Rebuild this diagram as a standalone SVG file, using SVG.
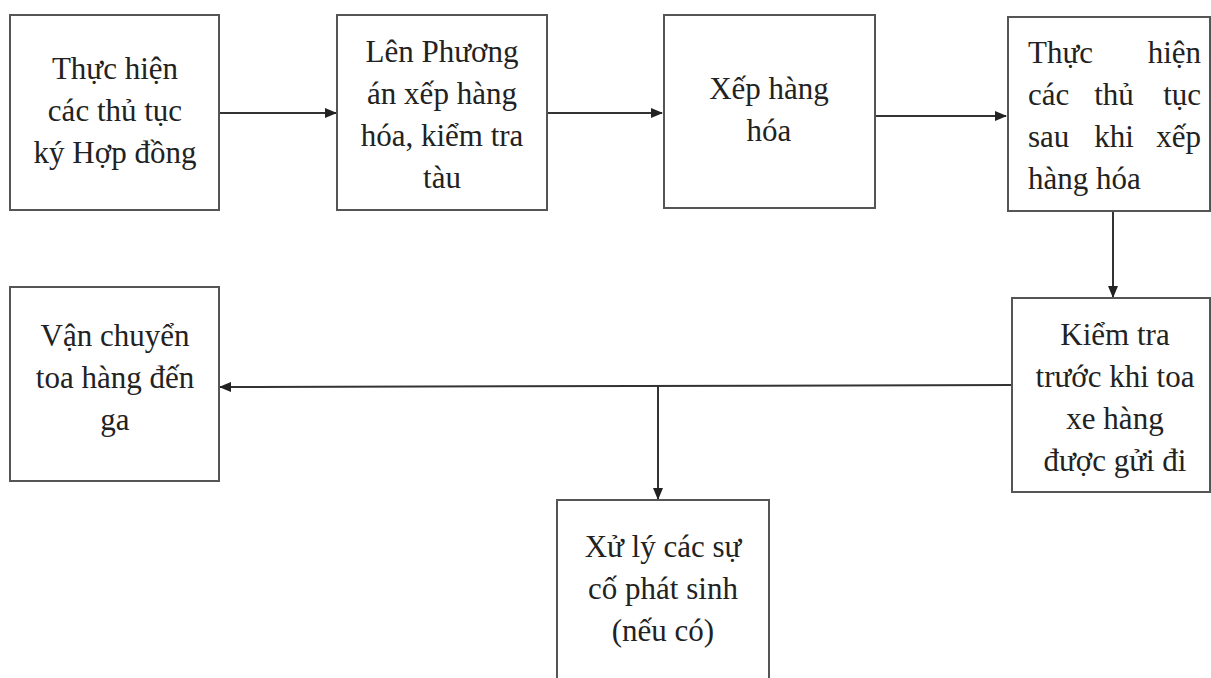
<svg xmlns="http://www.w3.org/2000/svg" width="1211" height="678" viewBox="0 0 1211 678">
<defs>
<marker id="ah" markerWidth="12" markerHeight="10" refX="11" refY="5" orient="auto" markerUnits="userSpaceOnUse">
<path d="M0,0 L12,5 L0,10 Z" fill="#222"/>
</marker>
<style>
.box{fill:#fff;stroke:#555;stroke-width:2}
.t{font-family:"Liberation Serif","Times New Roman",serif;font-size:31px;fill:#222;text-anchor:middle}
.tl{font-family:"Liberation Serif","Times New Roman",serif;font-size:31px;fill:#222}
.c{fill:none;stroke:#333;stroke-width:2}
</style>
</defs>
<rect width="1211" height="678" fill="#fff"/>
<g id="connectors">
<line class="c" x1="219" y1="113" x2="336" y2="113" marker-end="url(#ah)"/>
<line class="c" x1="547" y1="113" x2="662" y2="113" marker-end="url(#ah)"/>
<line class="c" x1="875" y1="116" x2="1006" y2="116" marker-end="url(#ah)"/>
<line class="c" x1="1113" y1="211" x2="1113" y2="297" marker-end="url(#ah)"/>
<line class="c" x1="1012" y1="385" x2="220" y2="387" marker-end="url(#ah)"/>
<line class="c" x1="658" y1="386" x2="658" y2="499" marker-end="url(#ah)"/>
</g>
<g id="n1">
<rect class="box" x="10" y="15" width="209" height="195"/>
<text class="t" x="115" y="79">Thực hiện</text>
<text class="t" x="115" y="121">các thủ tục</text>
<text class="t" x="115" y="163">ký Hợp đồng</text>
</g>
<g id="n2">
<rect class="box" x="337" y="15" width="210" height="195"/>
<text class="t" x="442" y="62">Lên Phương</text>
<text class="t" x="442" y="104">án xếp hàng</text>
<text class="t" x="442" y="146">hóa, kiểm tra</text>
<text class="t" x="442" y="188">tàu</text>
</g>
<g id="n3">
<rect class="box" x="664" y="15" width="211" height="193"/>
<text class="t" x="769" y="99">Xếp hàng</text>
<text class="t" x="769" y="141">hóa</text>
</g>
<g id="n4">
<rect class="box" x="1008" y="17" width="202" height="194"/>
<text class="tl" x="1028" y="63">Thực</text>
<text class="tl" x="1201" y="63" text-anchor="end">hiện</text>
<text class="tl" x="1028" y="105">các</text>
<text class="tl" x="1114" y="105" text-anchor="middle">thủ</text>
<text class="tl" x="1201" y="105" text-anchor="end">tục</text>
<text class="tl" x="1028" y="147">sau</text>
<text class="tl" x="1114" y="147" text-anchor="middle">khi</text>
<text class="tl" x="1201" y="147" text-anchor="end">xếp</text>
<text class="tl" x="1028" y="189">hàng hóa</text>
</g>
<g id="n5">
<rect class="box" x="1012" y="298" width="198" height="194"/>
<text class="t" x="1115" y="345">Kiểm tra</text>
<text class="t" x="1115" y="387">trước khi toa</text>
<text class="t" x="1115" y="429">xe hàng</text>
<text class="t" x="1115" y="471">được gửi đi</text>
</g>
<g id="n6">
<rect class="box" x="10" y="287" width="209" height="194"/>
<text class="t" x="115" y="346">Vận chuyển</text>
<text class="t" x="115" y="388">toa hàng đến</text>
<text class="t" x="115" y="430">ga</text>
</g>
<g id="n7">
<rect class="box" x="557" y="500" width="212" height="190"/>
<text class="t" x="663" y="557">Xử lý các sự</text>
<text class="t" x="663" y="599">cố phát sinh</text>
<text class="t" x="663" y="641">(nếu có)</text>
</g>
</svg>
